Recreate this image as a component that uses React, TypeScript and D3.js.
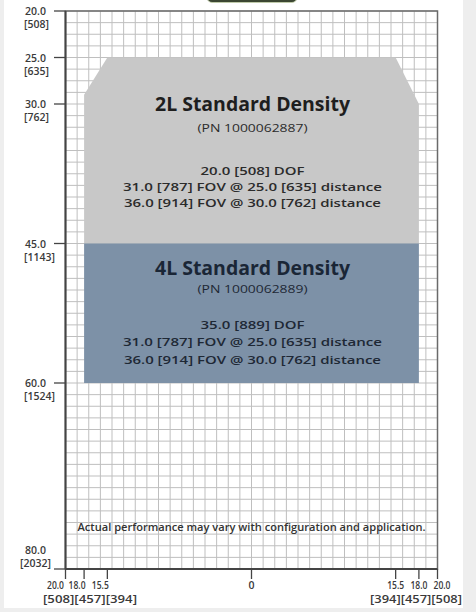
import * as d3 from 'd3';
import { useEffect, useRef } from 'react';

// distance in inches (y) and field of view half-width in inches (x)
const yTicks = [20, 25, 30, 45, 60, 80];
const yTickLabels = ['20.0', '25.0', '30.0', '45.0', '60.0', '80.0'];
const yTickMm = ['[508]', '[635]', '[762]', '[1143]', '[1524]', '[2032]'];

const xTicks = [-20, -18, -15.5, 0, 15.5, 18, 20];
const xTickLabels = ['20.0', '18.0', '15.5', '0', '15.5', '18.0', '20.0'];
const xMmLeft = ['[508]', '[457]', '[394]'];
const xMmRight = ['[394]', '[457]', '[508]'];

const zone2L: [number, number][] = [
  [-15.5, 25],
  [15.5, 25],
  [18, 30],
  [18, 45],
  [-18, 45],
  [-18, 29],
];
const zone4L: [number, number][] = [
  [-18, 45],
  [18, 45],
  [18, 60],
  [-18, 60],
];

const text2L = [
  '2L Standard Density',
  '(PN 1000062887)',
  '20.0 [508] DOF',
  '31.0 [787] FOV @ 25.0 [635] distance',
  '36.0 [914] FOV @ 30.0 [762] distance',
];
const text4L = [
  '4L Standard Density',
  '(PN 1000062889)',
  '35.0 [889] DOF',
  '31.0 [787] FOV @ 25.0 [635] distance',
  '36.0 [914] FOV @ 30.0 [762] distance',
];
const footnote = 'Actual performance may vary with configuration and application.';

const W = 476;
const H = 612;
const font = "'Open Sans', 'DejaVu Sans', sans-serif";

export default function App() {
  const svgRef = useRef<SVGSVGElement>(null);

  useEffect(() => {
    const svg = d3.select(svgRef.current);
    svg.selectAll('*').remove();

    const x = d3.scaleLinear().domain([-20, 20]).range([65.5, 437.5]);
    const y = d3.scaleLinear().domain([20, 80]).range([11, 569]);

    // page background + white panel
    svg.append('rect').attr('width', W).attr('height', H).attr('fill', '#eeeeee');
    svg.append('rect').attr('x', 4).attr('y', 0).attr('width', 459).attr('height', 608).attr('fill', '#ffffff');

    // small dark tab at the top
    svg
      .append('rect')
      .attr('x', 207)
      .attr('y', -8)
      .attr('width', 90)
      .attr('height', 10.5)
      .attr('rx', 5)
      .attr('fill', '#3b4632')
      .attr('stroke', '#c9d6b0')
      .attr('stroke-width', 0.8);

    // grid
    const grid = svg.append('g').attr('stroke', '#bfbfbf').attr('stroke-width', 1);
    d3.range(-20, 20.001, 1.25).forEach((v) => {
      grid.append('line').attr('x1', x(v)).attr('x2', x(v)).attr('y1', y(20)).attr('y2', y(80));
    });
    d3.range(20, 80.001, 1.25).forEach((v) => {
      grid.append('line').attr('x1', x(-20)).attr('x2', x(20)).attr('y1', y(v)).attr('y2', y(v));
    });

    // zones
    const line = d3
      .line<[number, number]>()
      .x((d) => x(d[0]))
      .y((d) => y(d[1]))
      .curve(d3.curveLinearClosed);
    svg.append('path').datum(zone2L).attr('d', line as any).attr('fill', '#c8c8c8');
    svg.append('path').datum(zone4L).attr('d', line as any).attr('fill', '#7d91a7');

    // frame
    svg
      .append('rect')
      .attr('x', x(-20))
      .attr('y', y(20))
      .attr('width', x(20) - x(-20))
      .attr('height', y(80) - y(20))
      .attr('fill', 'none')
      .attr('stroke', '#6a6a6a')
      .attr('stroke-width', 1.5);
    svg
      .append('line')
      .attr('x1', x(-20))
      .attr('x2', x(-20))
      .attr('y1', y(20))
      .attr('y2', y(80))
      .attr('stroke', '#444')
      .attr('stroke-width', 2);
    svg
      .append('line')
      .attr('x1', x(-20))
      .attr('x2', x(20))
      .attr('y1', y(80))
      .attr('y2', y(80))
      .attr('stroke', '#444')
      .attr('stroke-width', 2);

    // y axis ticks and labels
    const yAxis = svg
      .append('g')
      .style('font-family', font)
      .style('font-size', '10.5px')
      .style('font-weight', 600)
      .attr('fill', '#3a3a3a');
    yTicks.forEach((v, i) => {
      const py = y(v);
      yAxis
        .append('line')
        .attr('x1', 54)
        .attr('x2', x(-20))
        .attr('y1', py)
        .attr('y2', py)
        .attr('stroke', '#444')
        .attr('stroke-width', 1.3);
      const last = i === yTicks.length - 1;
      if (last) {
        yAxis.append('text').attr('x', 46).attr('y', py - 15).attr('text-anchor', 'end').text(yTickLabels[i]);
        yAxis.append('text').attr('x', 51).attr('y', py - 2).attr('text-anchor', 'end').text(yTickMm[i]);
      } else {
        yAxis.append('text').attr('x', 25).attr('y', py + 4).text(yTickLabels[i]);
        yAxis.append('text').attr('x', 24).attr('y', py + 17).text(yTickMm[i]);
      }
    });

    // x axis ticks and labels
    const xAxis = svg
      .append('g')
      .style('font-family', font)
      .style('font-size', '10.5px')
      .style('font-weight', 600)
      .attr('fill', '#3a3a3a');
    xTicks.forEach((v, i) => {
      const px = x(v);
      xAxis
        .append('line')
        .attr('x1', px)
        .attr('x2', px)
        .attr('y1', y(80))
        .attr('y2', y(80) + 10)
        .attr('stroke', '#444')
        .attr('stroke-width', 1.3);
      let anchor = 'middle';
      let tx = px;
      if (v === -20) {
        anchor = 'end';
        tx = px - 1.5;
      } else if (v < 0) {
        anchor = 'end';
        tx = px + 1.5;
      } else if (v === 20) {
        anchor = 'start';
        tx = px - 4;
      }
      const t = xAxis.append('text').attr('x', tx).attr('y', 589).attr('text-anchor', anchor).text(xTickLabels[i]);
      if (v !== 0) t.attr('textLength', 17).attr('lengthAdjust', 'spacingAndGlyphs');
    });
    xAxis
      .append('text')
      .attr('x', 43)
      .attr('y', 603)
      .attr('textLength', 94)
      .attr('lengthAdjust', 'spacingAndGlyphs')
      .text(xMmLeft.join(''));
    xAxis
      .append('text')
      .attr('x', 462)
      .attr('y', 603)
      .attr('text-anchor', 'end')
      .attr('textLength', 92)
      .attr('lengthAdjust', 'spacingAndGlyphs')
      .text(xMmRight.join(''));

    // zone texts
    const cx = x(0) + 1;
    const addBlock = (lines: string[], top: number, offsets: number[], widths: number[], color: string, titleColor: string) => {
      lines.forEach((t, i) => {
        svg
          .append('text')
          .attr('x', cx)
          .attr('y', top + offsets[i])
          .attr('text-anchor', 'middle')
          .attr('textLength', widths[i])
          .attr('lengthAdjust', 'spacingAndGlyphs')
          .style('font-family', font)
          .style('font-size', i === 0 ? '19px' : '11.5px')
          .style('font-weight', i === 0 ? 700 : i === 1 ? 400 : 600)
          .attr('fill', i === 0 ? titleColor : color)
          .text(t);
      });
    };
    addBlock(text2L, y(25), [53, 74, 117, 133, 149], [195, 110, 104, 259, 257], '#2b2b2b', '#1e1e1e');
    addBlock(text4L, y(45), [31, 49, 85, 102, 120], [195, 110, 104, 259, 257], '#1e2835', '#1a2636');

    // footnote
    svg
      .append('text')
      .attr('x', x(0))
      .attr('y', 531)
      .attr('text-anchor', 'middle')
      .attr('textLength', 348)
      .attr('lengthAdjust', 'spacingAndGlyphs')
      .style('font-family', font)
      .style('font-size', '10.5px')
      .style('font-weight', 600)
      .attr('fill', '#333')
      .text(footnote);
  }, []);

  return (
    <div>
      <svg ref={svgRef} width={W} height={H} style={{ position: 'absolute', left: 0, top: 0 }}></svg>
    </div>
  );
}
